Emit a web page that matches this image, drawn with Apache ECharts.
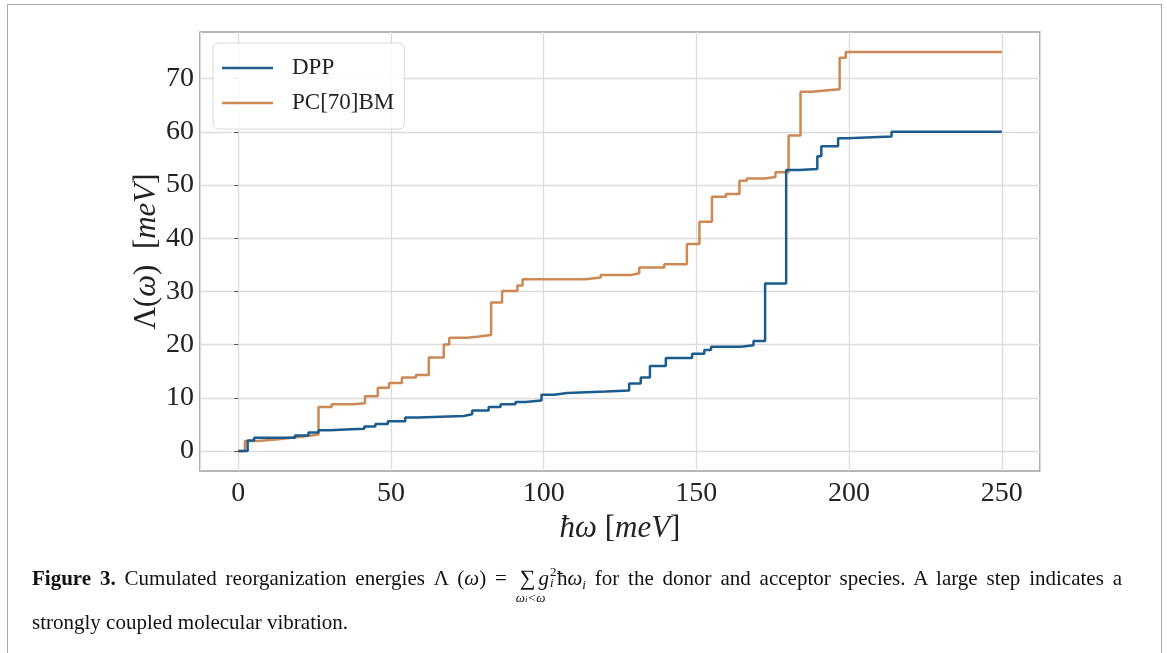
<!DOCTYPE html>
<html>
<head>
<meta charset="utf-8">
<script src="https://cdn.jsdelivr.net/npm/echarts@6/dist/echarts.min.js"></script>
<style>
  html, body { margin: 0; padding: 0; background: #fff; }
  #frame { position: absolute; left: 7px; top: 4px; width: 1155px; height: 700px;
           border: 1.5px solid #a8a8a8; border-bottom: none; box-sizing: border-box; }
  #chart { position: absolute; left: 0; top: 0; width: 1167px; height: 653px; }
  .cap { position: absolute; left: 32px; width: 1090px;
         font-family: 'Liberation Serif', serif; font-size: 21px; line-height: 30px; color: #111; }
  #cap1 { top: 563px; text-align: justify; text-align-last: justify; }
  #cap2 { top: 607px; }
  .cap i { font-style: italic; }
  .sum { position: relative; display: inline-block; font-size: 22px; line-height: 1; margin: 0 3px 0 4px; }
  .lim { position: absolute; left: 50%; transform: translateX(-40%); top: 100%; margin-top: 2px;
         font-size: 13px; line-height: 13px; white-space: nowrap; font-style: italic; }
  .lim .s { font-size: 9px; }
  .ss { position: relative; display: inline-block; width: 8px; height: 21px; vertical-align: baseline; }
  .ss .up { position: absolute; left: 1px; top: 1px; font-size: 13px; line-height: 13px; }
  .ss .dn { position: absolute; left: 1px; top: 12px; font-size: 13px; line-height: 13px; font-style: italic; }
  .sb { font-size: 13px; font-style: italic; position: relative; top: 4px; }
</style>
</head>
<body>
<div id="frame"></div>
<div id="chart"></div>
<div class="cap" id="cap1"><b>Figure 3.</b> Cumulated reorganization energies Λ (<i>ω</i>) = <span class="sum">∑<span class="lim">ω<span class="s">i</span>&lt;ω</span></span><i>g</i><span class="ss"><span class="up">2</span><span class="dn">i</span></span>ħ<i>ω</i><span class="sb">i</span> for the donor and acceptor species. A large step indicates a</div>
<div class="cap" id="cap2">strongly coupled molecular vibration.</div>
<script>
// ---- data (x = ħω in meV at each step, y = cumulated Λ after the step) ----
const dppX = [0, 3.1, 5.2, 18.6, 23, 26.3, 30, 37, 41.3, 44.9, 49, 54.7, 59, 73.8, 76.6, 82, 85.9, 90.8, 94.1, 99.3,
  103.4, 107.7, 120.3, 128, 131.8, 134.8, 140, 148.6, 152.6, 154.8, 164.6, 168.7, 172.5, 179.4, 183.6, 189.6,
  190.9, 196.4, 199.6, 213.9, 250];
const dppY = [0, 2.0, 2.5, 2.9, 3.5, 3.9, 4.1, 4.2, 4.6, 5.1, 5.6, 6.3, 6.6, 6.9, 7.6, 8.3, 8.8, 9.2, 9.5, 10.6,
  10.9, 11.2, 11.4, 12.7, 13.8, 16.0, 17.5, 18.3, 19.0, 19.6, 19.9, 20.7, 31.5, 52.8, 53.0, 55.4,
  57.3, 58.8, 59.1, 60.0, 60.0];
const pcbmX = [0, 2.2, 6.6, 13.1, 17.5, 22, 26.3, 30.6, 37.7, 41.5, 45.7, 49.4, 53.6, 58.2, 62.4, 67.3, 69.1, 74.9,
  78.2, 82.8, 86.4, 91.4, 93.1, 113.8, 118.7, 128.6, 131.3, 139.5, 146.9, 151, 155.1, 159.7, 164.1, 166.5,
  172.3, 175.9, 180.2, 184.1, 187.9, 191.2, 196.9, 198.9, 250];
const pcbmY = [0, 1.9, 2.2, 2.5, 2.8, 3.1, 8.3, 8.8, 9.0, 10.3, 11.9, 12.8, 13.8, 14.3, 17.6, 20.0, 21.3, 21.5,
  21.8, 27.9, 30.1, 31.1, 32.3, 32.6, 33.1, 33.4, 34.5, 35.1, 38.9, 43.1, 47.8, 48.3, 50.8, 51.2,
  51.5, 52.4, 59.3, 67.5, 67.7, 68.0, 73.9, 75.0, 75.0];
const seriesNames = ['DPP', 'PC[70]BM'];
const xTicks = [0, 50, 100, 150, 200, 250];
const yTicks = [0, 10, 20, 30, 40, 50, 60, 70];

const zip = (xs, ys) => xs.map((x, i) => [x, ys[i]]);
const FONT = 'Liberation Serif';

const chart = echarts.init(document.getElementById('chart'), null, { renderer: 'canvas' });
chart.setOption({
  animation: false,
  backgroundColor: 'transparent',
  grid: { left: 200, right: 127, top: 32, bottom: 182, show: true, borderColor: '#6e6e6e', borderWidth: 1.2,
          backgroundColor: 'transparent' },
  legend: {
    left: 213, top: 43, orient: 'vertical',
    data: seriesNames,
    icon: 'path://M0,0 L60,0 L60,3 L0,3 Z',
    itemWidth: 51, itemHeight: 3, itemGap: 9,
    padding: [12, 10, 13, 9],
    borderColor: '#d8d8d8', borderWidth: 1, borderRadius: 5,
    backgroundColor: 'rgba(255,255,255,0.85)',
    textStyle: { fontFamily: FONT, fontSize: 23, color: '#222', padding: [0, 0, 0, 14], lineHeight: 26 }
  },
  xAxis: {
    type: 'value', min: -12.5, max: 262.5, minInterval: 50, maxInterval: 50,
    axisLine: { show: false }, axisTick: { show: false },
    axisLabel: { customValues: xTicks, fontFamily: FONT, fontSize: 28, color: '#222', margin: 9 },
    splitLine: { show: true, lineStyle: { color: '#dcdcdc', width: 1.3 } },
    name: '{i|ħω} {n|[}{i|meV}{n|]}', nameLocation: 'middle', nameGap: 34,
    nameTextStyle: { fontFamily: FONT, fontSize: 31, color: '#222',
      rich: { i: { fontFamily: FONT, fontStyle: 'italic', fontSize: 31, color: '#222' },
              n: { fontFamily: FONT, fontSize: 31, color: '#222' } } }
  },
  yAxis: {
    type: 'value', min: -3.75, max: 78.75, minInterval: 10, maxInterval: 10,
    axisLine: { show: false },
    axisTick: { show: true, customValues: yTicks, length: 4, lineStyle: { color: '#555' } },
    axisLabel: { customValues: yTicks, fontFamily: FONT, fontSize: 28, color: '#222', margin: 6 },
    splitLine: { show: true, lineStyle: { color: '#dcdcdc', width: 1.3 } },
    name: '{n|Λ(}{i|ω}{n|)  [}{i|meV}{n|]}', nameLocation: 'middle', nameGap: 38, nameRotate: 90,
    nameMoveOverlap: false,
    nameTextStyle: { fontFamily: FONT, fontSize: 31, color: '#222',
      rich: { i: { fontFamily: FONT, fontStyle: 'italic', fontSize: 31, color: '#222' },
              n: { fontFamily: FONT, fontSize: 31, color: '#222' } } }
  },
  series: [
    { name: seriesNames[0], type: 'line', step: 'end', data: zip(dppX, dppY), showSymbol: false, symbol: 'none',
      color: '#1b5c8e', lineStyle: { color: '#1b5c8e', width: 2.5 }, z: 3 },
    { name: seriesNames[1], type: 'line', step: 'end', data: zip(pcbmX, pcbmY), showSymbol: false, symbol: 'none',
      color: '#cc8953', lineStyle: { color: '#cc8953', width: 2.5 }, z: 2 }
  ]
});
</script>
</body>
</html>
